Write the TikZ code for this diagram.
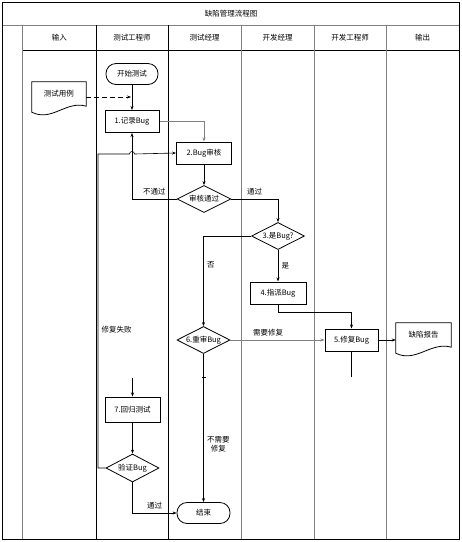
\documentclass[tikz,border=0pt]{standalone}
\usepackage{fontspec}
\setmainfont{Noto Sans CJK SC}
\usetikzlibrary{shapes.geometric, arrows.meta, positioning, calc}

\begin{document}
\begin{tikzpicture}[x=1pt, y=-1pt, >={Stealth[length=4pt, width=3pt]},
    every node/.style={font=\fontsize{7.5}{9}\selectfont},
    proc/.style={draw, line width=1pt, minimum width=54pt, minimum height=22pt, inner sep=1pt},
    decision/.style={draw, diamond, aspect=2, line width=0.8pt, minimum width=54pt, minimum height=27pt, inner sep=-1.5pt},
    terminal/.style={draw, rounded corners=10pt, line width=0.8pt, minimum width=52pt, minimum height=21pt},
    docnode/.style={minimum width=54pt, minimum height=30pt, inner sep=1pt, text depth=7pt},
    flow/.style={line width=0.6pt},
    lane/.style={line width=0.9pt}]
    \useasboundingbox (0,0) rectangle (462,542);

    % swimlanes
    \draw[lane] (2.7,2.7) rectangle (459,539);
    \draw[lane, gray] (2.7,25) -- (459,25);
    \draw[lane] (22.7,50) -- (459,50);
    \foreach \x/\c in {22.7/gray, 96/black, 168/black, 241/gray, 314/gray, 386/gray}
        \draw[lane, \c] (\x,25) -- (\x,539);

    \node (title) at (231,14) {缺陷管理流程图};
    \node (hin)  at (59.4,38)  {输入};
    \node (hte)  at (132,38)   {测试工程师};
    \node (htm)  at (204.5,38) {测试经理};
    \node (hdm)  at (277.5,38) {开发经理};
    \node (hde)  at (350,38)   {开发工程师};
    \node (hout) at (422.5,38) {输出};

    % steps
    \node[terminal] (start) at (132,74) {开始测试};
    \node[docnode] (tcase) at (59,97) {测试用例};
    \draw[line width=0.8pt] (tcase.north west) -- (tcase.north east) -- ([yshift=6pt]tcase.south east)
        .. controls ([xshift=-20pt, yshift=12pt]tcase.south east) and ([xshift=20pt, yshift=-10pt]tcase.south west) .. (tcase.south west) -- cycle;
    \node[proc] (rec1) at (132,121.5) {1.记录Bug};
    \node[proc, minimum width=55pt] (review2) at (204,153) {2.Bug审核};
    \node[decision] (pass) at (204,199) {审核通过};
    \node[decision, minimum width=53pt] (isbug3) at (278,236) {3.是Bug?};
    \node[proc, minimum width=56pt] (assign4) at (278,293) {4.指派Bug};
    \node[proc, minimum width=53pt] (fix5) at (351.5,340) {5.修复Bug};
    \node[docnode, minimum width=55pt] (report) at (423.5,338) {缺陷报告};
    \draw[line width=0.8pt] (report.north west) -- (report.north east) -- ([yshift=6pt]report.south east)
        .. controls ([xshift=-20pt, yshift=12pt]report.south east) and ([xshift=20pt, yshift=-10pt]report.south west) .. (report.south west) -- cycle;
    \node[decision, minimum width=53pt] (recheck6) at (203.5,340) {6.重审Bug};
    \node[proc, minimum width=55pt, minimum height=25pt] (regress7) at (132.5,409.5) {7.回归测试};
    \node[decision, minimum width=53pt, minimum height=28pt] (verify) at (132.5,468) {验证Bug};
    \node[terminal, minimum width=53pt] (finish) at (203.5,513) {结束};

    % connectors
    \coordinate (tcin) at (131,97);
    \coordinate (tick) at (203.5,377);
    \coordinate (fixout) at (351.5,377);
    \coordinate (regin) at (132.5,378);
    \coordinate (fb) at (98,154);

    \draw[flow, ->] (start) -- (rec1);
    \draw[flow, dash pattern=on 5pt off 3pt, ->] (tcase.east) -- (tcin);
    \draw[flow, gray, ->] (rec1.east) -| (review2.north);
    \draw[flow, ->] (review2) -- (pass);
    \draw[flow, ->] (pass.west) -| node[above, pos=0.25] {不通过} (rec1.south);
    \draw[flow, ->] (pass.east) -| node[above, pos=0.25] {通过} (isbug3.north);
    \draw[flow, ->] (isbug3.west) -| node[right, pos=0.66] {否} (recheck6.north);
    \draw[flow, ->] (isbug3) -- node[right] {是} (assign4);
    \draw[flow, ->] (assign4.south) -- ++(0,8) -| (fix5.north);
    \draw[flow, ->] (fix5.east) -- (fix5.east -| report.west);
    \draw[flow, gray, ->] (recheck6.east) -- node[above, pos=0.4, black] {需要修复} (fix5.west);
    \draw[flow, ->] (recheck6.south) -- node[right, pos=0.61, align=center] {不需要\\修复} (finish.north);
    \draw[flow] ([xshift=-2pt]tick) -- ([xshift=2pt]tick);
    \draw[flow] (fix5.south) -- (fixout);
    \draw[flow, ->] (regin) -- (regress7);
    \draw[flow, ->] (regress7) -- (verify);
    \draw[flow, ->] (verify.west) -| node[right, pos=0.72] {修复失败} (fb)
        -- ([xshift=-2.5pt]rec1.south |- fb) arc[start angle=180, end angle=0, radius=2.5pt] -- (review2.west);
    \draw[flow, ->] (verify.south) |- node[above, pos=0.75] {通过} (finish.west);
\end{tikzpicture}
\end{document}
